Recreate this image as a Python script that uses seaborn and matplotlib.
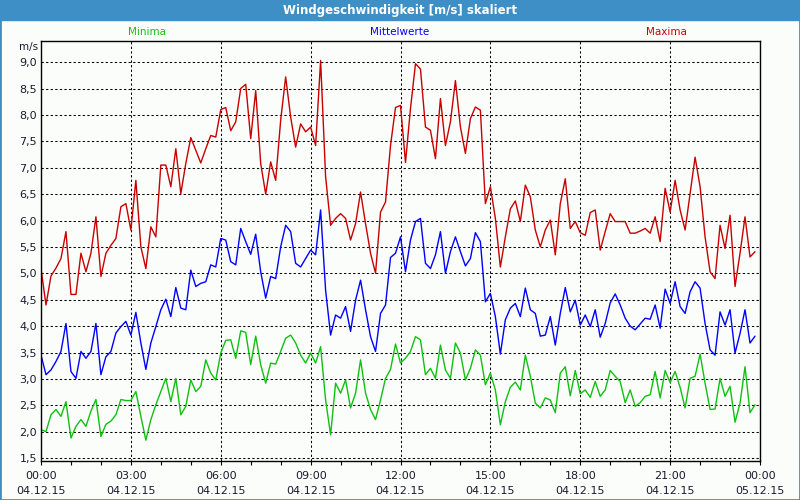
import numpy as np
import pandas as pd
import seaborn as sns
import matplotlib.pyplot as plt
import matplotlib.dates as mdates
from matplotlib.patches import Rectangle
from matplotlib.ticker import FuncFormatter

# 10-Minuten-Werte vom 04.12.15
zeit = pd.date_range("2015-12-04 00:00", periods=144, freq="10min")

maxima = [5.09, 4.4, 4.95, 5.1, 5.28, 5.79, 4.6, 4.6, 5.38, 5.03, 5.38, 6.07, 4.94, 5.38, 5.53, 5.66,
          6.26, 6.32, 5.82, 6.76, 5.5, 5.09, 5.88, 5.69, 7.05, 7.05, 6.64, 7.36, 6.51, 7.08, 7.57, 7.33,
          7.09, 7.36, 7.61, 7.58, 8.1, 8.14, 7.7, 7.87, 8.5, 8.58, 7.55, 8.46, 7.08, 6.5, 7.11, 6.76,
          7.9, 8.72, 7.96, 7.39, 7.83, 7.68, 7.77, 7.42, 9.03, 6.83, 5.91, 6.04, 6.13, 6.04, 5.63, 5.94,
          6.54, 5.94, 5.38, 5.0, 6.16, 6.35, 7.42, 8.14, 8.18, 7.1, 8.12, 8.97, 8.87, 7.77, 7.71, 7.17,
          8.31, 7.42, 7.87, 8.65, 7.77, 7.27, 7.93, 8.15, 8.09, 6.32, 6.64, 6.04, 5.12, 5.69, 6.22, 6.37,
          5.98, 6.67, 6.45, 5.82, 5.5, 5.82, 6.01, 5.35, 6.32, 6.79, 5.85, 5.98, 5.77, 5.72, 6.15, 6.2,
          5.44, 5.79, 6.13, 5.98, 5.98, 5.98, 5.76, 5.76, 5.8, 5.85, 5.76, 6.07, 5.6, 6.61, 6.16, 6.76,
          6.2, 5.82, 6.51, 7.2, 6.64, 5.69, 5.03, 4.9, 5.91, 5.47, 6.1, 4.75, 5.38, 6.07, 5.31, 5.41]

mittel = [3.45, 3.08, 3.17, 3.33, 3.52, 4.05, 3.14, 3.01, 3.52, 3.39, 3.52, 4.05, 3.08, 3.42, 3.52, 3.87,
          3.99, 4.09, 3.83, 4.26, 3.68, 3.18, 3.68, 3.99, 4.31, 4.51, 4.18, 4.73, 4.34, 4.31, 5.06, 4.75,
          4.81, 4.84, 5.16, 5.12, 5.66, 5.63, 5.22, 5.16, 5.85, 5.6, 5.36, 5.74, 5.03, 4.53, 4.94, 4.9,
          5.5, 5.91, 5.79, 5.19, 5.12, 5.28, 5.44, 5.35, 6.2, 4.68, 3.83, 4.21, 4.15, 4.37, 3.9, 4.49,
          4.87, 4.31, 3.8, 3.52, 4.24, 4.4, 5.3, 5.38, 5.69, 5.03, 5.63, 5.98, 6.04, 5.19, 5.09, 5.35,
          5.79, 5.0, 5.41, 5.69, 5.41, 5.14, 5.28, 5.77, 5.6, 4.46, 4.62, 4.18, 3.47, 4.12, 4.34, 4.43,
          4.18, 4.72, 4.31, 4.24, 3.81, 3.83, 4.18, 3.64, 4.24, 4.73, 4.27, 4.49, 4.02, 4.21, 3.99, 4.31,
          3.79, 4.05, 4.44, 4.61, 4.4, 4.15, 4.0, 3.93, 4.04, 4.15, 4.13, 4.4, 3.96, 4.7, 4.43, 4.84,
          4.37, 4.24, 4.65, 4.84, 4.72, 4.05, 3.55, 3.45, 4.27, 4.02, 4.31, 3.49, 3.86, 4.31, 3.68, 3.81]

minima = [2.04, 2.0, 2.32, 2.42, 2.29, 2.57, 1.88, 2.1, 2.23, 2.1, 2.39, 2.61, 1.91, 2.14, 2.2, 2.32,
          2.61, 2.59, 2.59, 2.76, 2.29, 1.84, 2.23, 2.51, 2.76, 3.01, 2.57, 3.01, 2.32, 2.48, 2.98, 2.76,
          2.86, 3.36, 3.11, 2.98, 3.49, 3.73, 3.74, 3.39, 3.91, 3.88, 3.27, 3.81, 3.27, 2.92, 3.3, 3.28,
          3.52, 3.77, 3.83, 3.68, 3.45, 3.3, 3.49, 3.3, 3.61, 2.6, 1.94, 2.92, 2.73, 2.98, 2.45, 2.73,
          3.36, 2.73, 2.42, 2.23, 2.6, 3.01, 3.18, 3.66, 3.3, 3.39, 3.52, 3.8, 3.74, 3.08, 3.2, 3.01,
          3.64, 3.17, 3.01, 3.68, 3.49, 2.98, 3.2, 3.55, 3.45, 2.89, 3.11, 2.79, 2.13, 2.57, 2.84, 2.94,
          2.79, 3.45, 3.05, 2.54, 2.45, 2.64, 2.6, 2.36, 3.11, 3.23, 2.68, 3.16, 2.72, 2.79, 2.65, 2.95,
          2.67, 2.79, 3.16, 3.05, 2.95, 2.55, 2.79, 2.48, 2.55, 2.67, 2.7, 3.14, 2.64, 3.16, 2.93, 3.14,
          2.84, 2.45, 3.01, 3.05, 3.47, 2.92, 2.42, 2.43, 3.01, 2.67, 2.86, 2.18, 2.54, 3.23, 2.36, 2.51]

reihen = ["Minima", "Mittelwerte", "Maxima"]
farben = {"Minima": "#10c010", "Mittelwerte": "#0000ff", "Maxima": "#c80000"}
y_ticks = [1.5, 2.0, 2.5, 3.0, 3.5, 4.0, 4.5, 5.0, 5.5, 6.0, 6.5, 7.0, 7.5, 8.0, 8.5, 9.0]

df = pd.DataFrame({"Zeit": zeit, "Minima": minima, "Mittelwerte": mittel, "Maxima": maxima})
df_long = df.melt(id_vars="Zeit", var_name="Reihe", value_name="Wert")

sns.set_style("white")
plt.rcParams["font.family"] = ["DejaVu Sans"]
bg = "#fbfdfb"
blau = "#3d8fc6"
textfarbe = "#1a1a2e"

fig = plt.figure(figsize=(8, 5), dpi=100, facecolor=bg)
ax = fig.add_axes([41 / 800, 39 / 500, 719 / 800, 420 / 500], facecolor=bg)

sns.lineplot(data=df_long, x="Zeit", y="Wert", hue="Reihe", hue_order=reihen,
             palette=farben, linewidth=1.0, legend=False, ax=ax)

ax.set_xlim(pd.Timestamp("2015-12-04 00:00"), pd.Timestamp("2015-12-05 00:00"))
ax.set_ylim(1.445, 9.4)
ax.set_yticks(y_ticks)
ax.yaxis.set_major_formatter(FuncFormatter(lambda v, p: f"{v:.1f}".replace(".", ",")))
ax.xaxis.set_major_locator(mdates.HourLocator(byhour=range(0, 24, 3)))
ax.xaxis.set_minor_locator(mdates.HourLocator())
ax.xaxis.set_major_formatter(mdates.DateFormatter("%H:%M\n%d.%m.%y"))
ax.set_xlabel("")
ax.set_ylabel("")

ax.grid(True, which="major", color="black", linestyle=(0, (2.2, 2.2)), linewidth=0.75)
ax.tick_params(axis="y", length=0, pad=3, labelsize=8, labelcolor=textfarbe)
ax.tick_params(axis="x", which="both", direction="out", length=3, width=0.8,
               bottom=True, color="black", labelsize=8, labelcolor=textfarbe, pad=4)
for lbl in ax.get_xticklabels():
    lbl.set_linespacing(1.6)
for s in ax.spines.values():
    s.set_visible(True)
    s.set_color("black")
    s.set_linewidth(1.0)

# Titelleiste und Rahmen
fig.patches.append(Rectangle((0, 0.96), 1, 0.04, transform=fig.transFigure, color=blau, zorder=0))
fig.patches.append(Rectangle((0, 0), 1, 1, transform=fig.transFigure, fill=False,
                             edgecolor=blau, linewidth=2.0, zorder=5))
fig.text(0.5, 0.979, "Windgeschwindigkeit [m/s] skaliert", ha="center", va="center",
         color="white", fontsize=8.5, fontweight="bold")

# Reihenbeschriftung oben
for name, xpos in zip(reihen, [147 / 800, 400 / 800, 666 / 800]):
    fig.text(xpos, 1 - 32 / 500, name, ha="center", va="center", color=farben[name], fontsize=7.5)
fig.text(38 / 800, 1 - 47 / 500, "m/s", ha="right", va="center", color=textfarbe, fontsize=7.5)

fig.savefig("out.png", dpi=100, facecolor=bg)
